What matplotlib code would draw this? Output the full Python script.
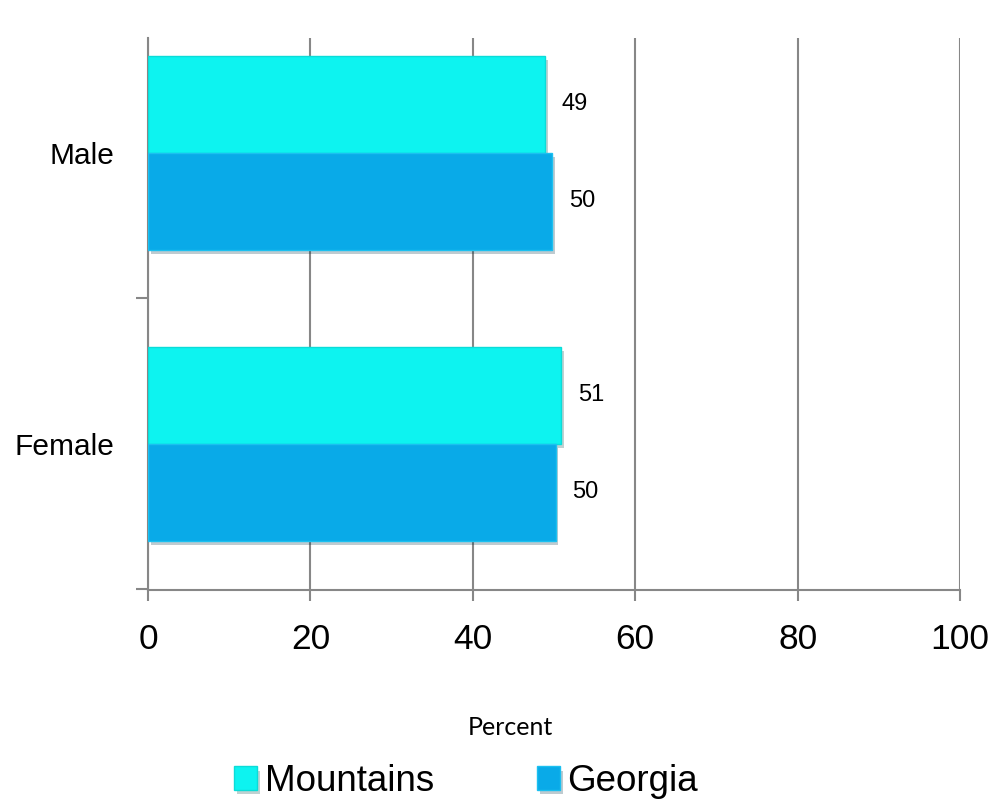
import numpy as np
import matplotlib.pyplot as plt
import matplotlib.patheffects as pe

categories = ['Female', 'Male']
mountains = [50.9, 48.9]
georgia = [50.2, 49.8]
mountains_labels = ['51', '49']
georgia_labels = ['50', '50']

c_mtn = '#0DF3F0'
c_ga = '#09AAE8'
grid_c = '#878787'

plt.rcParams['font.family'] = ['Liberation Sans', 'DejaVu Sans']

fig = plt.figure(figsize=(9.96, 8.06), dpi=100)
ax = fig.add_axes([0.1486, 0.268, 0.8153, 0.685])

y = np.arange(len(categories))
h = 0.333
shadow = [pe.SimplePatchShadow(offset=(2, -3), alpha=0.25), pe.Normal()]
b1 = ax.barh(y + h / 2, mountains, height=h, color=c_mtn, edgecolor='#0BDCD8',
             linewidth=1, label='Mountains', zorder=3)
b2 = ax.barh(y - h / 2, georgia, height=h, color=c_ga, edgecolor='#1BC0F0',
             linewidth=1, label='Georgia', zorder=3)
for b in list(b1) + list(b2):
    b.set_path_effects(shadow)

for bars, labs in [(b1, mountains_labels), (b2, georgia_labels)]:
    for bar, lab in zip(bars, labs):
        ax.annotate(lab, (bar.get_width(), bar.get_y() + bar.get_height() / 2),
                    xytext=(12, 0), textcoords='offset points',
                    va='center', ha='left', fontsize=17)

ax.set_xlim(0, 100)
ax.set_ylim(-0.502, 1.395)
ax.set_xticks(np.arange(0, 101, 20))
ax.set_yticks(y)
ax.set_yticklabels(categories)
ax.set_yticks([-0.5, 0.5], minor=True)

ax.grid(axis='x', color=grid_c, linewidth=1.5, zorder=0)
ax.set_axisbelow(True)
for s in ['top', 'right']:
    ax.spines[s].set_visible(False)
for s in ['left', 'bottom']:
    ax.spines[s].set_color(grid_c)
    ax.spines[s].set_linewidth(1.5)

ax.tick_params(axis='x', length=8, width=1.5, color=grid_c, labelsize=25.5, pad=16)
ax.tick_params(axis='y', which='major', length=0, labelsize=21.5, pad=24)
ax.tick_params(axis='y', which='minor', length=9, width=1.5, color=grid_c)

fig.text(0.512, 0.097, 'Percent', ha='center', va='center', fontsize=18,
         family=['Lato', 'DejaVu Sans'])

fig.legend(handles=[b1, b2], loc='center', bbox_to_anchor=(0.468, 0.030),
           ncol=2, frameon=False, fontsize=26.5, handlelength=0.62, handleheight=0.62,
           handletextpad=0.2, columnspacing=2.8)

fig.savefig('out.png', dpi=100)
